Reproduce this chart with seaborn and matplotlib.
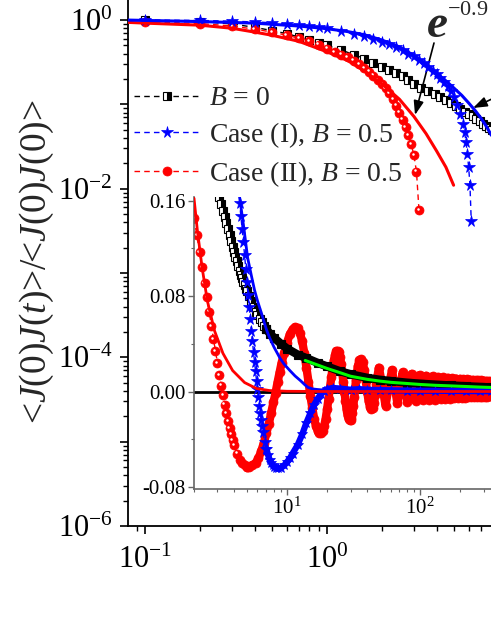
import matplotlib
matplotlib.use("Agg")
import matplotlib.pyplot as plt
import matplotlib.ticker as mticker
from matplotlib.transforms import offset_copy
import numpy as np
import pandas as pd
import seaborn as sns

# ---------------- main panel data (log-log) ----------------
t_b0 = [0.1, 0.2, 0.3, 0.4, 0.5, 0.6, 0.7, 0.8, 0.9, 1.0, 1.2, 1.4, 1.6, 1.8, 2.0, 2.2, 2.4, 2.6,
        2.8, 3.0, 3.3, 3.6, 3.9, 4.2, 4.5, 4.8, 5.1, 5.4, 5.7, 6.0, 6.3, 6.6, 6.9, 7.2, 7.5, 7.8, 8.1]
c_b0 = [1.0, 0.96, 0.90, 0.82, 0.75, 0.69, 0.63, 0.58, 0.54, 0.50, 0.44, 0.39, 0.35, 0.31, 0.28, 0.255,
        0.235, 0.215, 0.195, 0.175, 0.158, 0.145, 0.133, 0.122, 0.113, 0.104, 0.096, 0.089, 0.082,
        0.077, 0.072, 0.067, 0.063, 0.059, 0.056, 0.053, 0.050]

t_c1 = [0.1, 0.2, 0.3, 0.4, 0.5, 0.6, 0.7, 0.8, 0.9, 1.0, 1.2, 1.4, 1.6, 1.8, 2.0, 2.2, 2.4, 2.6, 2.8,
        3.0, 3.2, 3.4, 3.6, 3.8, 4.0, 4.2, 4.4, 4.6, 4.8, 5.0, 5.2, 5.4, 5.6, 5.7, 5.8, 5.9, 6.0, 6.1, 6.2]
c_c1 = [1.0, 0.99, 0.97, 0.95, 0.93, 0.90, 0.88, 0.855, 0.83, 0.80, 0.75, 0.69, 0.64, 0.60, 0.555,
        0.52, 0.48, 0.44, 0.40, 0.37, 0.34, 0.31, 0.28, 0.25, 0.23, 0.205, 0.185, 0.165, 0.145, 0.124,
        0.098, 0.077, 0.058, 0.047, 0.036, 0.026, 0.018, 0.011, 0.0041]

t_c2 = [0.1, 0.2, 0.3, 0.4, 0.5, 0.6, 0.7, 0.8, 0.9, 1.0, 1.1, 1.2, 1.3, 1.4, 1.5, 1.6, 1.7, 1.8,
        1.9, 2.0, 2.1, 2.2, 2.3, 2.4, 2.5, 2.6, 2.7, 2.8, 2.9, 3.0, 3.1, 3.2]
c_c2 = [0.96, 0.91, 0.85, 0.78, 0.72, 0.66, 0.61, 0.56, 0.51, 0.46, 0.42, 0.39, 0.36, 0.33, 0.30,
        0.27, 0.245, 0.22, 0.195, 0.175, 0.155, 0.135, 0.115, 0.097, 0.080, 0.066, 0.054, 0.043,
        0.034, 0.025, 0.016, 0.0056]

t_fit2 = [0.08, 0.1, 0.2, 0.3, 0.4, 0.5, 0.7, 1.0, 1.3, 1.6, 2.0, 2.5, 3.0, 3.5, 4.0, 4.5, 4.96]
c_fit2 = [0.94, 0.92, 0.87, 0.80, 0.72, 0.66, 0.56, 0.42, 0.33, 0.25, 0.175, 0.115, 0.072, 0.045,
          0.028, 0.018, 0.011]

t_fit1 = [0.08, 0.2, 0.4, 0.7, 1.0, 1.3, 1.6, 2.0, 2.5, 3.0, 3.5, 4.0, 4.5, 5.0, 5.5, 6.0, 6.5, 7.0, 7.5, 8.0]
c_fit1 = [1.0, 0.96, 0.92, 0.85, 0.79, 0.73, 0.67, 0.58, 0.48, 0.38, 0.30, 0.235, 0.19, 0.155, 0.128,
          0.104, 0.085, 0.069, 0.055, 0.043]

# ---------------- inset data (log-x, linear y) ----------------
b0_t_in = [2.9, 3.0, 3.1, 3.2, 3.3, 3.4, 3.5, 3.6, 3.7, 3.8, 3.9, 4.0, 4.1, 4.2, 4.3, 4.4, 4.5, 4.6,
           4.7, 4.8, 4.9, 5.0, 5.2, 5.4, 5.6, 5.8, 6.0, 6.25, 6.5, 6.75, 7.0, 7.5, 8.0, 9.0, 10, 12,
           14, 17, 20, 25, 30, 40, 50, 60, 80, 100, 130, 170, 220, 280, 341]
b0_c_in = [0.178, 0.170, 0.163, 0.157, 0.151, 0.146, 0.141, 0.136, 0.131, 0.126, 0.121, 0.117, 0.113,
           0.109, 0.105, 0.101, 0.098, 0.095, 0.092, 0.089, 0.086, 0.084, 0.080, 0.076, 0.071, 0.067,
           0.064, 0.061, 0.058, 0.055, 0.052, 0.048, 0.045, 0.040, 0.036, 0.031, 0.028, 0.024, 0.021,
           0.017, 0.0145, 0.0115, 0.0098, 0.0088, 0.0074, 0.0066, 0.0058, 0.0051, 0.0045, 0.0039, 0.0035]

c1_t_in = [4.3, 4.4, 4.5, 4.6, 4.7, 4.8, 4.9, 5.0, 5.1, 5.2, 5.3, 5.4, 5.5, 5.6, 5.7, 5.8, 5.9, 6.0,
           6.1, 6.2, 6.3, 6.4, 6.5, 6.6, 6.8, 7.0, 7.2, 7.4, 7.6, 7.8, 8.0, 8.3, 8.6, 9.0, 9.5, 10, 10.5,
           11, 12, 13, 14, 15, 16, 17, 18, 19, 20, 22, 25, 30, 35, 40, 50, 60, 80, 100, 130, 170, 220,
           280, 341]
c1_c_in = [0.168, 0.158, 0.147, 0.136, 0.125, 0.114, 0.103, 0.092, 0.081, 0.071, 0.061, 0.051, 0.042,
           0.033, 0.025, 0.017, 0.009, 0.002, -0.005, -0.012, -0.018, -0.024, -0.029, -0.034, -0.042,
           -0.048, -0.053, -0.057, -0.060, -0.062, -0.063, -0.064, -0.0645, -0.064, -0.062, -0.059,
           -0.056, -0.052, -0.045, -0.036, -0.026, -0.018, -0.011, -0.006, -0.002, 0.0005, 0.002, 0.003,
           0.0025, 0.0015, 0.002, 0.0015, 0.0012, 0.001, 0.0008, 0.0007, 0.0006, 0.0005, 0.0004, 0.0003,
           0.0003]

c2_t_in = [2.0, 2.1, 2.2, 2.3, 2.4, 2.5, 2.6, 2.7, 2.8, 2.9, 3.0, 3.1, 3.2, 3.3, 3.4, 3.5, 3.6, 3.7,
           3.8, 3.9, 4.0, 4.2, 4.4, 4.6, 4.8, 5.0, 5.2, 5.5, 5.8, 6.1, 6.4, 6.7, 7.0, 7.3, 7.6, 7.9,
           8.2, 8.5, 8.8, 9.1, 9.5, 10.0, 10.5, 11.0, 11.5, 12.0, 12.5, 13.0, 13.5, 14.0, 14.5, 15.0,
           15.5, 16.0, 16.5, 17.0, 17.5, 18.0, 18.5, 19.0, 19.5, 20.0, 20.5, 21.0, 21.5, 22.0, 22.5,
           23.0, 23.5, 24.0, 24.5, 25.0, 25.5, 26.0, 26.5, 27.0, 27.5, 28.0, 28.5, 29.0, 29.5, 30.0,
           30.5, 31.0, 31.5, 32.0, 33.0, 34.0, 35.0, 36.0, 37.0, 38.0, 39.0, 40.0, 41.0, 42.0, 43.0,
           44.0, 45.0, 46.0, 47.0, 48.0, 49.0, 52.0, 55.0, 58.0, 61.5, 64.5, 67.5, 71.0, 74.0, 77.0,
           80.0, 83.0, 86.5, 89.5, 92.5, 96.0, 99.0, 105, 111, 117.5, 124, 130, 136, 142.5, 149, 155,
           161, 167.5, 174, 180, 186, 192.5, 199, 205, 211, 217.5, 224, 230, 236, 242.5, 249, 255, 261,
           267.5, 274, 280, 286, 292.5, 299, 305, 311, 317.5, 324, 330, 336, 342.5]
c2_c_in = [0.145, 0.131, 0.117, 0.104, 0.091, 0.079, 0.067, 0.055, 0.044, 0.034, 0.024, 0.014, 0.005,
           -0.003, -0.011, -0.018, -0.025, -0.031, -0.036, -0.041, -0.045, -0.052, -0.057, -0.060,
           -0.062, -0.063, -0.063, -0.062, -0.060, -0.056, -0.050, -0.043, -0.035, -0.027, -0.018,
           -0.009, -0.001, 0.008, 0.016, 0.024, 0.032, 0.041, 0.048, 0.052, 0.054, 0.053, 0.049, 0.042,
           0.032, 0.020, 0.008, -0.004, -0.014, -0.023, -0.029, -0.033, -0.035, -0.035, -0.033, -0.029,
           -0.023, -0.015, -0.006, 0.003, 0.012, 0.020, 0.026, 0.031, 0.034, 0.034, 0.033, 0.029, 0.023,
           0.016, 0.008, 0.000, -0.008, -0.015, -0.020, -0.023, -0.024, -0.024, -0.022, -0.018, -0.012,
           -0.005, 0.010, 0.021, 0.026, 0.027, 0.025, 0.018, 0.009, 0.000, -0.008, -0.013, -0.015,
           -0.014, -0.010, -0.003, 0.006, 0.014, 0.020, 0.005, -0.012, 0.004, 0.018, 0.004, -0.010,
           0.004, 0.016, 0.004, -0.0088, 0.004, 0.0148, 0.004, -0.0080, 0.004, 0.0138, -0.0074, 0.0132,
           -0.0070, 0.0127, -0.0067, 0.0122, -0.0064, 0.0118, -0.0061, 0.0115, -0.0059, 0.0112, -0.0057,
           0.0109, -0.0055, 0.0106, -0.0053, 0.0104, -0.0051, 0.0102, -0.0050, 0.0100, -0.0048, 0.0098,
           -0.0047, 0.0096, -0.0046, 0.0094, -0.0045, 0.0093, -0.0044, 0.0091, -0.0043, 0.0090, -0.0042,
           0.0088, -0.0041, 0.0087, -0.0040]

fit2_t_in = [2.0, 2.12, 2.3, 2.52, 2.85, 3.3, 3.9, 4.8, 5.9, 7.4, 10, 20, 341]
fit2_c_in = [0.162, 0.135, 0.104, 0.076, 0.051, 0.032, 0.0176, 0.0075, 0.0025, 0.0008, 0.0002, 0.0, 0.0]

fit1_t_in = [4.3, 4.4, 4.7, 5.06, 5.4, 5.7, 6.0, 6.45, 7.0, 7.4, 8.0, 8.85, 9.5, 10.5, 11.5, 12.6,
             13.5, 14.4, 15.5, 16.9, 19, 22, 30, 50, 100, 341]
fit1_c_in = [0.170, 0.163, 0.140, 0.112, 0.097, 0.085, 0.076, 0.065, 0.052, 0.045, 0.037, 0.028,
             0.023, 0.0176, 0.013, 0.0092, 0.006, 0.0034, 0.0022, 0.0017, 0.0012, 0.001, 0.0008,
             0.0006, 0.0004, 0.0002]

green_t_in = [13.7, 17, 20, 25, 30, 40, 50, 60, 80, 100, 130, 170, 220, 280, 341]
green_c_in = [0.026, 0.0222, 0.0193, 0.0158, 0.0128, 0.0102, 0.0087, 0.0077, 0.0067, 0.0059, 0.0052,
              0.0047, 0.0042, 0.0037, 0.0034]

legend_labels = [r"$B$ = 0", r"Case (I), $B$ = 0.5", r"Case (II), $B$ = 0.5"]
ylabel_text = r"<$J$(0)$J$($t$)>/<$J$(0)$J$(0)>"

# ---------------- style ----------------
sns.set_theme(style="ticks")
plt.rcParams.update({
    "font.family": ["Liberation Serif", "DejaVu Serif"],
    "mathtext.fontset": "custom",
    "mathtext.rm": "Liberation Serif",
    "mathtext.it": "Liberation Serif:italic",
    "mathtext.bf": "Liberation Serif:bold:italic",
    "axes.unicode_minus": True,
})

W, H = 491, 635
fig = plt.figure(figsize=(W / 100, H / 100), dpi=100)


def fx(px):
    return px / W


def fy(py):
    return 1 - py / H


def draw(axis, t, c, **kw):
    df = pd.DataFrame({"t": t, "c": c})
    sns.lineplot(data=df, x="t", y="c", ax=axis, sort=False, estimator=None, legend=False, **kw)
    return axis.get_lines()[-1]


def highlight(axis, t, c, z):
    """small white glint on the red 'sphere' markers"""
    ln = draw(axis, t, c, color="white", linestyle="none", marker="o", markersize=1.8,
              markerfacecolor="white", markeredgecolor="white", markeredgewidth=0, zorder=z)
    ln.set_transform(offset_copy(axis.transData, fig=fig, x=-1.3, y=1.3, units="dots"))


BLUE = "#0000ff"
RED = "#ff0000"
DASH = (0, (4, 3))

# ---------------- main axes ----------------
ax = fig.add_axes([fx(128), fy(526), fx(491) - fx(128), fy(0) - fy(526)])
ax.set_xscale("log")
ax.set_yscale("log")
ax.set_xlim(0.0806, 7.96)
ax.set_ylim(1e-6, 1.73)

l_b0 = draw(ax, t_b0, c_b0, color="black", linestyle=DASH, lw=1.0, marker="s", markersize=6,
            fillstyle="right", markerfacecolor="black", markerfacecoloralt="white",
            markeredgecolor="black", markeredgewidth=0.8, zorder=3)
l_c2 = draw(ax, t_c2, c_c2, color=RED, linestyle=DASH, lw=1.0, marker="o", markersize=6.5,
            markerfacecolor=RED, markeredgecolor=RED, markeredgewidth=0.5, zorder=3)
highlight(ax, t_c2, c_c2, 3.05)
l_c1 = draw(ax, t_c1, c_c1, color=BLUE, linestyle=DASH, lw=1.0, marker="*", markersize=8.5,
            markerfacecolor=BLUE, markeredgecolor=BLUE, markeredgewidth=0.5, zorder=3.1)
draw(ax, t_fit2, c_fit2, color=RED, lw=2.2, zorder=4)
draw(ax, t_fit1, c_fit1, color=BLUE, lw=2.2, zorder=4)

ax.set_xlabel("")
ax.set_ylabel("")
for s in ["top", "right"]:
    ax.spines[s].set_visible(False)
for s in ["left", "bottom"]:
    ax.spines[s].set_linewidth(1.3)
    ax.spines[s].set_color("black")

ax.xaxis.set_major_locator(mticker.LogLocator(base=10, numticks=20))
ax.xaxis.set_minor_locator(mticker.LogLocator(base=10, subs=np.arange(2, 10), numticks=20))
ax.yaxis.set_major_locator(mticker.LogLocator(base=10, numticks=20))
ax.yaxis.set_minor_locator(mticker.LogLocator(base=10, subs=np.arange(2, 10), numticks=20))
ax.xaxis.set_minor_formatter(mticker.NullFormatter())
ax.yaxis.set_minor_formatter(mticker.NullFormatter())


def xfmt(v, pos):
    e = int(round(np.log10(v)))
    return r"$10^{%d}$" % e


def yfmt(v, pos):
    e = int(round(np.log10(v)))
    return r"$10^{%d}$" % e if e % 2 == 0 else ""


ax.xaxis.set_major_formatter(mticker.FuncFormatter(xfmt))
ax.yaxis.set_major_formatter(mticker.FuncFormatter(yfmt))
ax.tick_params(which="major", direction="out", length=6, width=1.2, labelsize=22, color="black",
               labelcolor="black")
ax.tick_params(which="minor", direction="out", length=3.5, width=1.0, color="black")
ax.tick_params(axis="x", which="major", pad=8)
ax.tick_params(axis="y", which="major", pad=5)

leg = ax.legend([l_b0, l_c1, l_c2], legend_labels, loc="upper left",
                bbox_to_anchor=(fx(134), fy(86)), bbox_transform=fig.transFigure,
                frameon=False, fontsize=20, handlelength=2.4, handletextpad=0.3,
                labelspacing=0.32, borderpad=0, borderaxespad=0)
leg.set_zorder(10)

# ---------------- inset axes ----------------
ins = fig.add_axes([fx(194), fy(489), fx(491) - fx(194), fy(197) - fy(489)])
ins.set_facecolor("none")
ins.set_xscale("log")
ins.set_xlim(2.0, 341)
ins.set_ylim(-0.0817, 0.163)
ins.axhline(0, color="black", lw=2.0, zorder=1)

k_r = c2_t_in.index(5.0)
draw(ins, c2_t_in[:k_r + 1], c2_c_in[:k_r + 1], color=RED, linestyle=DASH, lw=1.0, marker="o",
     markersize=6.5, markerfacecolor=RED, markeredgecolor=RED, markeredgewidth=0.5, zorder=2)
highlight(ins, c2_t_in[:k_r - 3], c2_c_in[:k_r - 3], 2.05)
draw(ins, c2_t_in[k_r:], c2_c_in[k_r:], color=RED, lw=6, marker="o", markersize=6.5,
     markerfacecolor=RED, markeredgecolor=RED, markeredgewidth=0.5, zorder=2)

k_b = b0_t_in.index(7.0)
draw(ins, b0_t_in[:k_b + 1], b0_c_in[:k_b + 1], color="black", linestyle=DASH, lw=1.0, marker="s",
     markersize=6, fillstyle="right", markerfacecolor="black", markerfacecoloralt="white",
     markeredgecolor="black", markeredgewidth=0.8, zorder=3)
draw(ins, b0_t_in[k_b:], b0_c_in[k_b:], color="black", lw=6, marker="s", markersize=6,
     markerfacecolor="black", markeredgecolor="black", markeredgewidth=0.8, zorder=3)

k_s = c1_t_in.index(7.0)
draw(ins, c1_t_in[:k_s + 1], c1_c_in[:k_s + 1], color=BLUE, linestyle=DASH, lw=1.0, marker="*",
     markersize=8.5, markerfacecolor=BLUE, markeredgecolor=BLUE, markeredgewidth=0.5, zorder=4)
draw(ins, c1_t_in[k_s:], c1_c_in[k_s:], color=BLUE, lw=4.5, marker="*", markersize=7.5,
     markerfacecolor=BLUE, markeredgecolor=BLUE, markeredgewidth=0.5, zorder=4)

draw(ins, fit1_t_in, fit1_c_in, color=BLUE, lw=2.0, zorder=5)
draw(ins, fit2_t_in, fit2_c_in, color=RED, lw=2.0, zorder=6)
draw(ins, green_t_in, green_c_in, color="#00ff00", lw=2.2, zorder=7)

ins.set_xlabel("")
ins.set_ylabel("")
for s in ["top", "right"]:
    ins.spines[s].set_visible(False)
for s in ["left", "bottom"]:
    ins.spines[s].set_linewidth(1.2)
    ins.spines[s].set_color("#666666")
ins.yaxis.set_major_locator(mticker.FixedLocator([-0.08, 0.0, 0.08, 0.16]))
ins.yaxis.set_minor_locator(mticker.FixedLocator([-0.04, 0.04, 0.12]))
ins.yaxis.set_major_formatter(mticker.FixedFormatter(["-0.08", "0.00", "0.08", "0.16"]))
ins.xaxis.set_major_locator(mticker.LogLocator(base=10, numticks=10))
ins.xaxis.set_minor_locator(mticker.LogLocator(base=10, subs=np.arange(2, 10), numticks=10))
ins.xaxis.set_major_formatter(mticker.FuncFormatter(xfmt))
ins.xaxis.set_minor_formatter(mticker.NullFormatter())
ins.tick_params(which="major", direction="out", length=4, width=1.0, labelsize=15,
                color="#666666", labelcolor="black", pad=2)
ins.tick_params(which="minor", direction="out", length=2.5, width=0.8, color="#666666")

# ---------------- texts & arrows ----------------
fig.text(fx(37), fy(262), ylabel_text, rotation=90, ha="center", va="center", fontsize=27)
fig.text(fx(427), fy(37), "e", fontsize=34, fontweight="bold", style="italic", ha="left",
         va="baseline")
fig.text(fx(447), fy(15), r"$-0.9$", fontsize=16, ha="left", va="baseline")

arrow_kw = dict(arrowstyle="-|>,head_length=0.7,head_width=0.25", color="black", lw=1.2,
                shrinkA=0, shrinkB=0, mutation_scale=12)
ax.annotate("", xy=(415, H - 115), xycoords="figure pixels", xytext=(434, H - 43),
            textcoords="figure pixels", arrowprops=arrow_kw, annotation_clip=False)
ax.annotate("", xy=(473, H - 108), xycoords="figure pixels", xytext=(496, H - 97),
            textcoords="figure pixels", arrowprops=arrow_kw, annotation_clip=False)

fig.savefig("out.png", dpi=100)
